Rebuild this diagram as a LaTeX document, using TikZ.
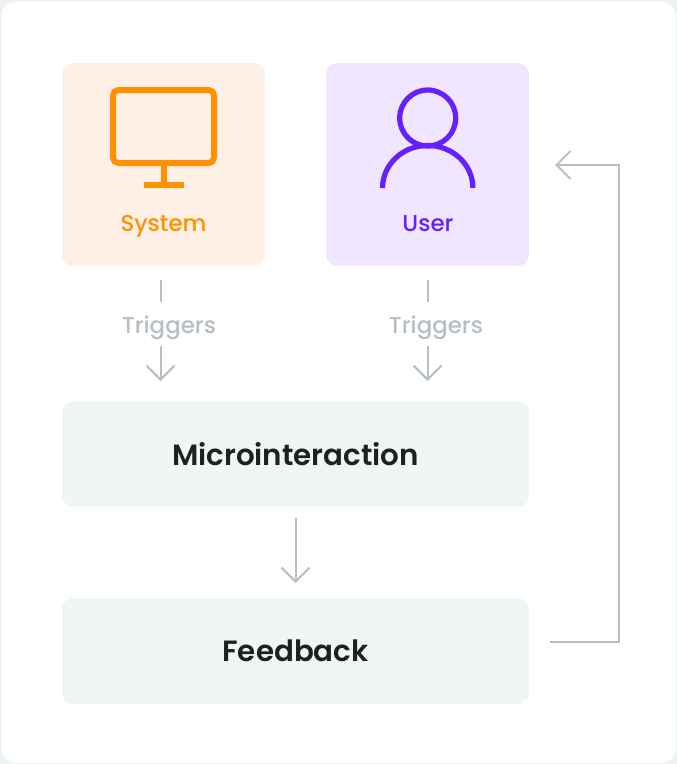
\documentclass[tikz,border=0pt]{standalone}
\usepackage{fontspec}
\setmainfont{Poppins}[UprightFont=* Medium]
\newfontfamily\boldface{Poppins}[UprightFont=* SemiBold]
\usetikzlibrary{arrows.meta}
\definecolor{frameC}{HTML}{EDF2F2}
\definecolor{sysbg}{HTML}{FFF0E6}
\definecolor{usrbg}{HTML}{F0E6FF}
\definecolor{stepbg}{HTML}{F0F5F5}
\definecolor{sysC}{HTML}{FF9100}
\definecolor{usrC}{HTML}{6420FF}
\definecolor{lineC}{HTML}{B6BFC4}
\definecolor{inkC}{HTML}{1E2022}
\tikzset{
  x=0.75pt,y=-0.75pt,
  cardbox/.style={rounded corners=8.5pt,minimum width=152.25pt,minimum height=152.25pt,inner sep=0pt},
  widebox/.style={fill=stepbg,rounded corners=8.5pt,minimum width=350.25pt,minimum height=79.5pt,inner sep=0pt,text=inkC,font=\boldface\fontsize{22pt}{28pt}\selectfont},
  cardlabel/.style={inner sep=0pt,font=\fontsize{17.2pt}{20pt}\selectfont},
  triglabel/.style={inner sep=0pt,text=lineC,font=\fontsize{17.2pt}{20pt}\selectfont},
  link/.style={draw=lineC,line width=1.5pt},
  arrowlink/.style={link,-{Straight Barb[length=10.5pt,width=21pt,line width=1.5pt]}},
}
\begin{document}
\begin{tikzpicture}
\useasboundingbox (0,0) rectangle (677,764);
\fill[frameC] (0,0) rectangle (677,764);
\fill[white,rounded corners=11pt] (1.5,1.5) rectangle (676,763);
% cards
\node[cardbox,fill=sysbg] (system) at (163.5,164.5) {};
\node[cardbox,fill=usrbg] (user) at (427.5,164.5) {};
\node[cardlabel,text=sysC] (systemlabel) at (163.5,226.5) {System};
\node[cardlabel,text=usrC] (userlabel) at (428,224) {User};
% monitor icon
\draw[sysC,line width=4.5pt,rounded corners=4pt] (113,90) rectangle (214,163);
\fill[sysC] (160.5,165) rectangle (166.5,183);
\fill[sysC] (144,182) rectangle (183.5,188);
% user icon
\draw[usrC,line width=3.9pt] (427.7,118) circle (28);
\draw[usrC,line width=3.9pt] (382.5,188) arc[start angle=180,end angle=0,x radius=33.9pt,y radius=31.9pt];
% boxes
\node[widebox] (micro) at (295.5,454) {\raisebox{0.5pt}{Microinteraction}};
\node[widebox] (feedback) at (295.5,651) {Feedback};
% triggers
\node[triglabel] (trigA) at (169,328) {Triggers};
\node[triglabel] (trigB) at (436,328) {Triggers};
\coordinate (a1) at (160.5,280);
\coordinate (a2) at (160.5,302);
\coordinate (a3) at (160.5,346);
\coordinate (a4) at (160.5,381);
\coordinate (b1) at (427.5,280);
\coordinate (b2) at (427.5,302);
\coordinate (b3) at (427.5,346);
\coordinate (b4) at (427.5,381);
\draw[link] (a1) -- (a2);
\draw[arrowlink] (a3) -- (a4);
\draw[link] (b1) -- (b2);
\draw[arrowlink] (b3) -- (b4);
\coordinate (m1) at (295.5,518);
\coordinate (m2) at (295.5,583);
\draw[arrowlink] (m1) -- (m2);
\coordinate (f1) at (550,641.5);
\coordinate (f2) at (619,641.5);
\coordinate (f3) at (619,165);
\coordinate (f4) at (555,165);
\draw[arrowlink] (f1) -- (f2) -- (f3) -- (f4);
\end{tikzpicture}
\end{document}
